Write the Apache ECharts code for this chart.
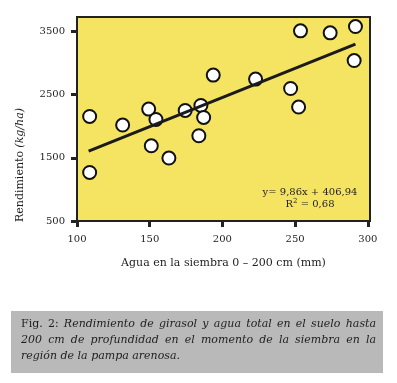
<!DOCTYPE html>
<html><head><meta charset="utf-8">
<script src="https://cdn.jsdelivr.net/npm/echarts@6/dist/echarts.min.js"></script>
<style>html,body{margin:0;padding:0;background:#fff}#c{width:397px;height:383px}</style>
</head><body><div id="c"></div>
<script>
// Data
const waterMm = [108.7,131.4,149.3,154.3,151.1,163.2,108.7,174.4,185.2,187.1,183.8,193.7,222.8,246.9,252.4,253.7,274.1,291.5,290.6];
const yieldKgHa = [2155,2019,2272,2108,1691,1497,1269,2250,2329,2139,1850,2810,2747,2598,2304,3511,3479,3579,3041];
const trendX = [108, 291.5];
const trendY = [1605, 3300];
const xTicks = [100,150,200,250,300];
const yTicks = [500,1500,2500,3500];
const xName = 'Agua en la siembra 0 – 200 cm (mm)';
const yNameMain = 'Rendimiento';
const yNameUnit = '(kg/ha)';
const eqLine1 = 'y= 9,86x + 406,94';
const eqLine2 = 'R{s|2} = 0,68';
const captionLines = ['Fig. 2: Rendimiento de girasol y agua total en el suelo hasta',
  '200 cm de profundidad en el momento de la siembra en la',
  'región de la pampa arenosa.'];

const FONT = '"DejaVu Serif", "Liberation Serif", serif';
const TXT = '#1e1e1e';

const chart = echarts.init(document.getElementById('c'), null, {renderer:'canvas'});

// caption words (justified)
const cv = document.createElement('canvas').getContext('2d');
const capGraphics = [];
const capLeft = 21, capRight = 376, capSize = 11;
captionLines.forEach((line, li) => {
  const words = line.split(' ');
  const styles = words.map((w, wi) => (li === 0 && wi < 2) ? 'normal' : 'italic');
  const widths = words.map((w, wi) => { cv.font = styles[wi] + ' ' + capSize + 'px ' + FONT; return cv.measureText(w).width; });
  const total = widths.reduce((a,b)=>a+b,0);
  let gap;
  if (li < captionLines.length - 1) gap = (capRight - capLeft - total) / (words.length - 1);
  else { cv.font = 'italic ' + capSize + 'px ' + FONT; gap = cv.measureText(' ').width; }
  let x = capLeft;
  words.forEach((w, wi) => {
    capGraphics.push({type:'text', x:x, y:324 + li*16, z:10,
      style:{text:w, x:0, y:0, fill:TXT, font: styles[wi] + ' ' + capSize + 'px ' + FONT, textVerticalAlign:'middle', textAlign:'left'}});
    x += widths[wi] + gap;
  });
});

const option = {
  animation:false,
  backgroundColor:'#ffffff',
  grid:{left:77, right:27, top:17, bottom:162, show:true, backgroundColor:'#f5e461', borderColor:'#222', borderWidth:2},
  xAxis:{type:'value', min:100, max:301.5,
    name:xName, nameLocation:'middle', nameGap:37,
    nameTextStyle:{fontFamily:FONT, fontSize:11, color:TXT},
    axisLine:{show:true, lineStyle:{color:'#222', width:2}},
    axisTick:{show:true, length:6, lineStyle:{color:'#222', width:3}, customValues:xTicks},
    axisLabel:{show:true, margin:13, fontFamily:FONT, fontSize:10, color:TXT, customValues:xTicks, formatter:v=>String(v)},
    splitLine:{show:false}},
  yAxis:{type:'value', min:500, max:3730,
    axisLine:{show:true, lineStyle:{color:'#222', width:2}},
    axisTick:{show:true, length:6, lineStyle:{color:'#222', width:3}, customValues:yTicks},
    axisLabel:{show:true, margin:12, fontFamily:FONT, fontSize:10, color:TXT, customValues:yTicks, formatter:v=>String(v)},
    splitLine:{show:false}},
  series:[
    {type:'scatter', data:waterMm.map((x,i)=>[x, yieldKgHa[i]]), symbol:'circle', symbolSize:13,
      itemStyle:{color:'#ffffff', borderColor:'#111', borderWidth:2, opacity:1}, z:3},
    {type:'line', data:trendX.map((x,i)=>[x, trendY[i]]), showSymbol:false, symbol:'none',
      lineStyle:{color:'#1a1a1a', width:3}, z:4, silent:true}
  ],
  graphic:[
    {type:'text', x:20, y:165, rotation:Math.PI/2, z:10,
      style:{text:'{a|' + yNameMain + '} {b|' + yNameUnit + '}', x:0, y:0, textAlign:'center', textVerticalAlign:'middle',
        rich:{a:{fontFamily:FONT, fontSize:11, fill:TXT, color:TXT}, b:{fontFamily:FONT, fontSize:11, fontStyle:'italic', fill:TXT, color:TXT}}}},
    {type:'text', x:310, y:192, z:10, style:{text:eqLine1, x:0, y:0, textAlign:'center', textVerticalAlign:'middle', font:'10px ' + FONT, fill:TXT}},
    {type:'text', x:310, y:204, z:10, style:{text:eqLine2, x:0, y:0, textAlign:'center', textVerticalAlign:'middle', font:'10px ' + FONT, fill:TXT,
      rich:{s:{fontFamily:FONT, fontSize:7, verticalAlign:'top', padding:[0,0,5,0], fill:TXT, color:TXT}}}},
    {type:'rect', shape:{x:11, y:311, width:372, height:62}, style:{fill:'#b9b9b9'}, z:5}
  ].concat(capGraphics)
};
chart.setOption(option);
</script></body></html>
